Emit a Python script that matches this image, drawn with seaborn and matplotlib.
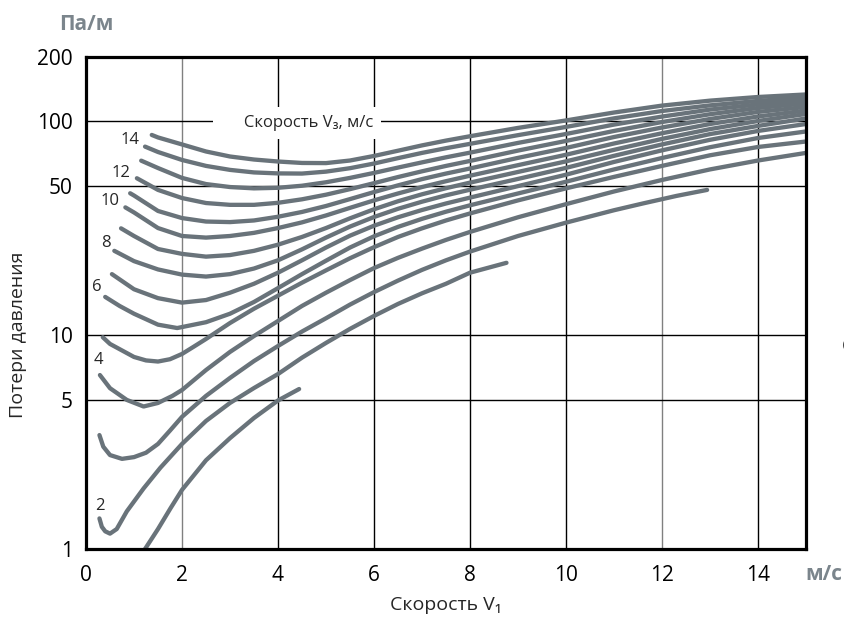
import numpy as np
import pandas as pd
import matplotlib
matplotlib.use('Agg')
import matplotlib.pyplot as plt
from matplotlib.ticker import NullLocator
import seaborn as sns

# Потери давления (Па/м) от скорости V1, кривые 1..15 = скорость V3, м/с
v1_1 = [1.23, 1.5, 1.76, 2.0, 2.5, 3.0, 3.5, 4.0, 4.44]
dp_1 = [1.0, 1.24, 1.55, 1.89, 2.60, 3.30, 4.10, 4.95, 5.6]

v1_2 = [0.28, 0.33, 0.40, 0.50, 0.64, 0.85, 1.2, 1.55, 2.0, 2.5, 3.0, 3.5, 4.0, 4.5, 5.0,
        5.5, 6.0, 6.5, 7.0, 7.5, 8.0, 8.76]
dp_2 = [1.39, 1.27, 1.21, 1.18, 1.24, 1.50, 1.92, 2.40, 3.10, 3.97, 4.82, 5.66, 6.58, 7.85, 9.2,
        10.7, 12.3, 14.0, 15.7, 17.4, 19.6, 21.8]

v1_3 = [0.28, 0.36, 0.5, 0.75, 1.0, 1.25, 1.5, 1.75, 2.0, 2.5, 3.0, 3.5, 4.0, 4.5, 5.0, 5.5,
        6.0, 6.5, 7.0, 7.5, 8.0, 9.0, 10.0, 11.0, 11.6, 12.3, 12.94]
dp_3 = [3.41, 3.01, 2.75, 2.64, 2.69, 2.82, 3.10, 3.58, 4.15, 5.20, 6.31, 7.57, 8.90, 10.4, 12.0, 13.9,
        15.9, 18.0, 20.2, 22.4, 24.6, 29.1, 33.6, 38.4, 41.3, 44.8, 47.8]

v1_4 = [0.29, 0.5, 0.85, 1.2, 1.5, 1.8, 2.0, 2.5, 3.0, 3.5, 4.0, 4.5, 5.0, 5.5, 6.0, 6.5,
        7.0, 7.5, 8.0, 9.0, 10.0, 11.0, 12.0, 13.0, 14.0, 15.0]
dp_4 = [6.51, 5.65, 4.98, 4.64, 4.82, 5.20, 5.54, 6.87, 8.35, 9.91, 11.65, 13.7, 15.8, 18.1, 20.6, 23.0,
        25.4, 27.9, 30.4, 35.6, 41.0, 47.0, 53.2, 59.6, 65.6, 71.2]

v1_5 = [0.35, 0.5, 1.0, 1.25, 1.5, 1.75, 2.0, 2.25, 2.5, 3.0, 3.5, 4.0, 4.5, 5.0, 5.5, 6.0,
        6.5, 7.0, 7.5, 8.0, 9.0, 10.0, 11.0, 12.0, 13.0, 14.0, 15.0]
dp_5 = [9.78, 9.10, 7.91, 7.62, 7.53, 7.72, 8.17, 8.85, 9.60, 11.4, 13.3, 15.3, 17.6, 20.1, 22.9, 25.8,
        28.8, 31.6, 34.4, 37.1, 42.7, 48.6, 55.0, 61.9, 69.4, 75.9, 80.5]

v1_6 = [0.40, 0.7, 1.0, 1.5, 1.9, 2.5, 3.0, 3.5, 4.0, 4.5, 5.0, 5.5, 6.0, 6.5, 7.0, 7.5,
        8.0, 9.0, 10.0, 11.0, 12.0, 13.0, 14.0, 15.0]
dp_6 = [15.1, 13.7, 12.6, 11.2, 10.8, 11.5, 12.6, 14.3, 16.6, 19.3, 22.3, 25.7, 29.0, 32.1, 35.0, 37.8,
        40.5, 46.0, 52.2, 59.6, 67.4, 75.7, 83.6, 89.7]

v1_7 = [0.54, 1.0, 1.5, 2.0, 2.5, 3.0, 3.5, 4.0, 4.5, 5.0, 5.5, 6.0, 6.5, 7.0, 7.5, 8.0,
        9.0, 10.0, 11.0, 12.0, 13.0, 14.0, 15.0]
dp_7 = [19.3, 16.4, 14.9, 14.2, 14.6, 15.8, 17.4, 19.6, 22.4, 25.7, 29.2, 32.5, 35.6, 38.5, 41.3, 44.0,
        49.8, 56.3, 64.6, 73.2, 82.0, 90.2, 97.2]

v1_8 = [0.59, 1.0, 1.5, 2.0, 2.5, 3.0, 3.5, 4.0, 4.5, 5.0, 5.5, 6.0, 6.5, 7.0, 7.5, 8.0,
        9.0, 10.0, 11.0, 12.0, 13.0, 14.0, 15.0]
dp_8 = [24.8, 22.2, 20.3, 19.2, 18.8, 19.3, 20.5, 22.4, 25.2, 28.6, 32.2, 35.7, 39.0, 42.1, 45.1, 47.9,
        53.8, 60.6, 69.0, 78.0, 87.2, 95.2, 103.2]

v1_9 = [0.73, 1.0, 1.5, 2.0, 2.5, 3.0, 3.5, 4.0, 4.5, 5.0, 5.5, 6.0, 6.5, 7.0, 7.5, 8.0,
        9.0, 10.0, 11.0, 12.0, 13.0, 14.0, 15.0]
dp_9 = [31.6, 29.1, 25.3, 24.0, 23.3, 23.7, 24.8, 26.5, 28.8, 31.7, 35.2, 38.8, 42.3, 45.6, 48.7, 51.7,
        58.0, 65.0, 73.6, 82.8, 92.0, 100.4, 108.3]

v1_10 = [0.82, 1.0, 1.5, 2.0, 2.5, 3.0, 3.5, 4.0, 4.5, 5.0, 5.5, 6.0, 6.5, 7.0, 7.5, 8.0,
         9.0, 10.0, 11.0, 12.0, 13.0, 14.0, 15.0]
dp_10 = [39.6, 37.5, 31.7, 29.1, 28.6, 29.1, 30.1, 31.7, 33.7, 36.3, 39.4, 42.7, 46.0, 49.3, 52.5, 55.7,
         62.4, 69.8, 78.8, 88.0, 97.2, 105.4, 112.4]

v1_11 = [0.92, 1.0, 1.5, 2.0, 2.5, 3.0, 3.5, 4.0, 4.5, 5.0, 5.5, 6.0, 6.5, 7.0, 7.5, 8.0,
         9.0, 10.0, 11.0, 12.0, 13.0, 14.0, 15.0]
dp_11 = [46.1, 45.0, 38.1, 35.3, 34.0, 33.8, 34.4, 35.8, 37.7, 40.2, 43.3, 46.7, 50.2, 53.7, 57.0, 60.2,
         67.5, 75.1, 84.5, 93.6, 102.6, 110.7, 116.8]

v1_12 = [1.06, 1.5, 2.0, 2.5, 3.0, 3.5, 4.0, 4.5, 5.0, 5.5, 6.0, 6.5, 7.0, 7.5, 8.0,
         9.0, 10.0, 11.0, 12.0, 13.0, 14.0, 15.0]
dp_12 = [54.2, 47.8, 43.8, 41.5, 40.7, 40.7, 41.6, 43.2, 45.4, 48.2, 51.4, 54.9, 58.4, 61.9, 65.3,
         73.0, 81.0, 90.2, 99.3, 108.0, 115.5, 121.3]

v1_13 = [1.15, 1.5, 2.0, 2.5, 3.0, 3.5, 4.0, 4.5, 5.0, 5.5, 6.0, 6.5, 7.0, 7.5, 8.0,
         9.0, 10.0, 11.0, 12.0, 13.0, 14.0, 15.0]
dp_13 = [65.5, 60.5, 54.4, 50.9, 49.3, 48.6, 48.9, 50.0, 51.9, 54.4, 57.4, 60.8, 64.3, 67.9, 71.4,
         79.3, 87.3, 96.6, 105.3, 113.5, 120.0, 125.3]

v1_14 = [1.23, 1.5, 2.0, 2.5, 3.0, 3.5, 4.0, 4.5, 5.0, 5.5, 6.0, 6.5, 7.0, 7.5, 8.0,
         9.0, 10.0, 11.0, 12.0, 13.0, 14.0, 15.0]
dp_14 = [76.2, 71.9, 66.0, 61.9, 59.3, 57.7, 57.1, 57.0, 58.2, 60.4, 63.5, 67.3, 71.2, 74.9, 78.5,
         86.2, 94.2, 103.3, 111.8, 118.8, 124.6, 129.4]

v1_15 = [1.37, 1.5, 2.0, 2.5, 3.0, 3.5, 4.0, 4.5, 5.0, 5.5, 6.0, 6.5, 7.0, 7.5, 8.0,
         9.0, 10.0, 11.0, 12.0, 13.0, 14.0, 15.0]
dp_15 = [86.4, 84.1, 78.0, 72.3, 68.5, 66.3, 64.9, 63.9, 63.8, 65.6, 68.9, 72.9, 77.2, 81.3, 85.2,
         93.2, 101.0, 110.0, 118.5, 125.0, 130.0, 133.6]

x_ticks = [0, 2, 4, 6, 8, 10, 12, 14]
y_ticks = [1, 5, 10, 50, 100, 200]
y_tick_labels = ['1', '5', '10', '50', '100', '200']
labeled_curves = [2, 4, 6, 8, 10, 12, 14]

curves = [(v1_1, dp_1), (v1_2, dp_2), (v1_3, dp_3), (v1_4, dp_4), (v1_5, dp_5),
          (v1_6, dp_6), (v1_7, dp_7), (v1_8, dp_8), (v1_9, dp_9), (v1_10, dp_10),
          (v1_11, dp_11), (v1_12, dp_12), (v1_13, dp_13), (v1_14, dp_14), (v1_15, dp_15)]

df = pd.concat([pd.DataFrame({'v1': xs, 'dp': ys, 'v3': n})
                for n, (xs, ys) in enumerate(curves, start=1)], ignore_index=True)

sns.set_style('white')
plt.rcParams['font.family'] = ['Open Sans', 'DejaVu Sans']

line_color = '#69737a'
unit_color = '#7b858c'

fig = plt.figure(figsize=(8.44, 6.25), dpi=100)
ax = fig.add_axes([86/844, 1 - 549/625, 720/844, 492/625])

sns.lineplot(data=df, x='v1', y='dp', units='v3', estimator=None, sort=False,
             color=line_color, lw=3.1, solid_capstyle='round', solid_joinstyle='round',
             ax=ax, zorder=2)

ax.set_yscale('log')
ax.set_xlim(0, 15)
ax.set_ylim(1, 200)
ax.set_xticks(x_ticks)
ax.set_yticks(y_ticks)
ax.set_yticklabels(y_tick_labels)
ax.yaxis.set_minor_locator(NullLocator())
ax.set_xlabel('')
ax.set_ylabel('')

ax.grid(True, color='black', lw=1.0)
ax.set_axisbelow(True)
for i, gl in enumerate(ax.get_xgridlines()):
    if x_ticks[i] in (2, 12):
        gl.set_color('#808080')

for sp in ax.spines.values():
    sp.set_visible(True)
    sp.set_color('black')
    sp.set_linewidth(2.3)

ax.tick_params(axis='both', labelsize=15, colors='black', width=1.0, direction='out')
ax.tick_params(axis='x', length=3.5, pad=8)
ax.tick_params(axis='y', length=6, pad=3.5)

# подписи кривых (V3)
for n in labeled_curves:
    xs, ys = curves[n - 1]
    offs = {2: (0, 12), 4: (-1, 15), 6: (-8, 10), 8: (-8, 8), 10: (-15, 6),
            12: (-16, 5), 14: (-15, 7)}[n]
    ax.annotate(str(n), (xs[0], ys[0]), xytext=offs, textcoords='offset pixels',
                ha='center', va='center', fontsize=12, zorder=3)

ax.text(0.3986, 0.866, '     Скорость V\u2083, м/с', transform=ax.transAxes,
        ha='right', va='center', fontsize=12, zorder=1,
        bbox=dict(boxstyle='square,pad=0.5', fc='white', ec='none'))

fig.text(86/844, 1 - 24/625, 'Па/м', ha='center', va='center', fontsize=15,
         fontweight='bold', color=unit_color)
fig.text(824/844, 1 - 580/625, 'м/с', ha='center', va='baseline', fontsize=15,
         fontweight='bold', color=unit_color)
fig.text(446/844, 1 - 605/625, 'Скорость V\u2081', ha='center', va='center', fontsize=14)
fig.text(18/844, 1 - 335/625, 'Потери давления', ha='center', va='center',
         rotation=90, fontsize=14)
fig.text(0.997, 1 - 345/625, 'с', ha='left', va='center', fontsize=15)

fig.savefig('out.png', dpi=100)
